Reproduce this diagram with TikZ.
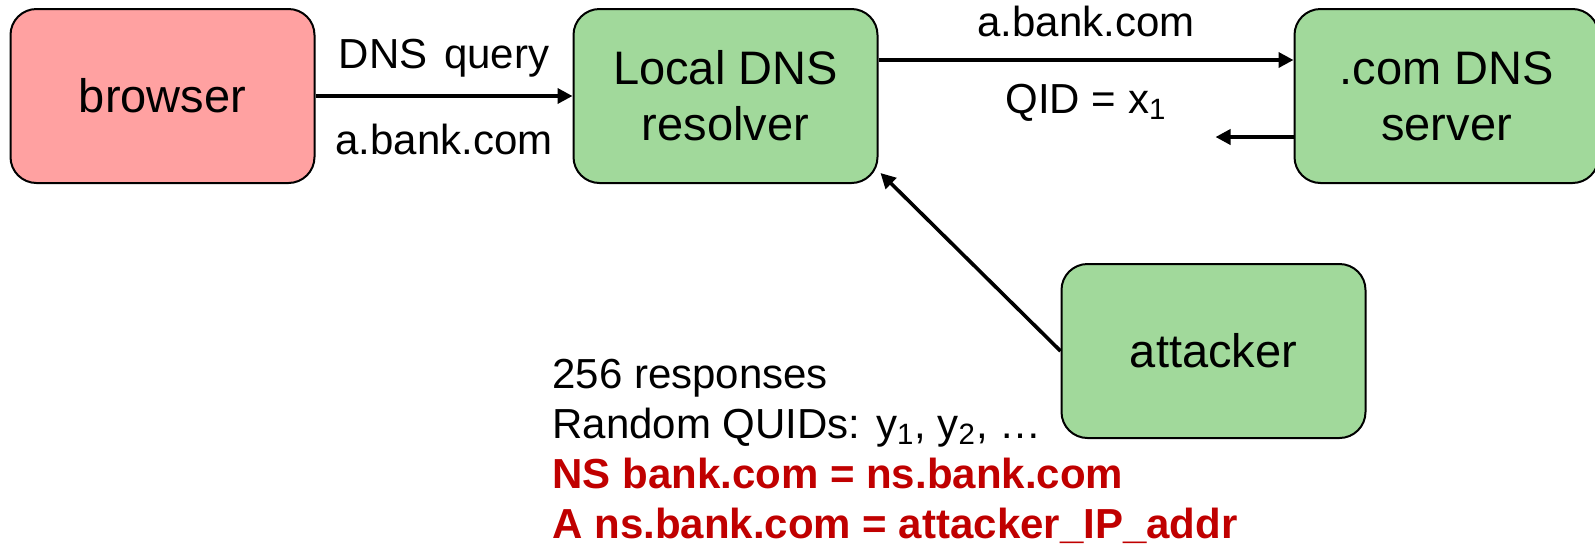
\documentclass[tikz,border=0pt]{standalone}
\usepackage{fontspec}
\setmainfont{Liberation Sans}
\usepackage{xcolor}
\usetikzlibrary{positioning, arrows.meta}

\definecolor{boxred}{RGB}{255,161,161}
\definecolor{boxgreen}{RGB}{161,217,155}
\definecolor{txtred}{RGB}{192,0,0}

\tikzset{
	box/.style={draw, line width=1pt, rounded corners=13pt, fill=boxgreen, minimum width=152pt, minimum height=87pt, inner sep=0pt, align=center, font=\fontsize{23.5}{28}\selectfont},
	lbl/.style={inner sep=2pt, font=\fontsize{21}{25}\selectfont},
	redlbl/.style={inner sep=0pt, text=txtred, font=\fontsize{21}{25}\selectfont\bfseries},
	arr/.style={-{Triangle[length=7.5pt,width=7.5pt]}, line width=1.8pt}
}

\begin{document}
\begin{tikzpicture}[x=0.5pt, y=-0.5pt]
		\useasboundingbox (0,0) rectangle (1595,547);
		
		%boites
		\node[box, fill=boxred] (browser) at (162.5,96) {browser};
		\node[box, right = 128.5pt of browser] (local) {Local DNS\\resolver};
		\node[box, right = 207.5pt of local] (dotcom) {.com DNS\\server};
		\node[box, below right = 39.5pt and 91pt of local] (attacker) {attacker};
		
		%requete
		\draw (browser) edge[arr] node[lbl, above=6.5pt]{DNS\hspace{0.4em}query} node[lbl, below=11pt]{a.bank.com} (local);
		\draw[arr] ([yshift=18pt]local.east) -- ([yshift=18pt]dotcom.west) node[midway, lbl, above=8.5pt]{a.bank.com} node[midway, lbl, below=9pt]{QID = x\textsubscript{1}};
		
		%reponse
		\coordinate[below left = 20.5pt and 39pt of dotcom.west] (reply);
		\draw[arr] ([yshift=-20.5pt]dotcom.west) -- (reply);
		
		%attaque
		\draw[arr] (attacker.west) -- ([shift={(1pt,5.5pt)}]local.south east);
		
		%texte
		\node[lbl, inner sep=0pt, anchor=base west] (resp) at (552,388) {256 responses};
		\node[lbl, inner sep=0pt, below = 25pt of resp.base west, anchor=base west] (quid) {Random QUIDs: y\textsubscript{1}, y\textsubscript{2}, …};
		\node[redlbl, below = 25pt of quid.base west, anchor=base west] (nsrec) {NS bank.com = ns.bank.com};
		\node[redlbl, below = 25pt of nsrec.base west, anchor=base west] (arec) {A ns.bank.com = attacker\_IP\_addr};
		
	\end{tikzpicture}
\end{document}
